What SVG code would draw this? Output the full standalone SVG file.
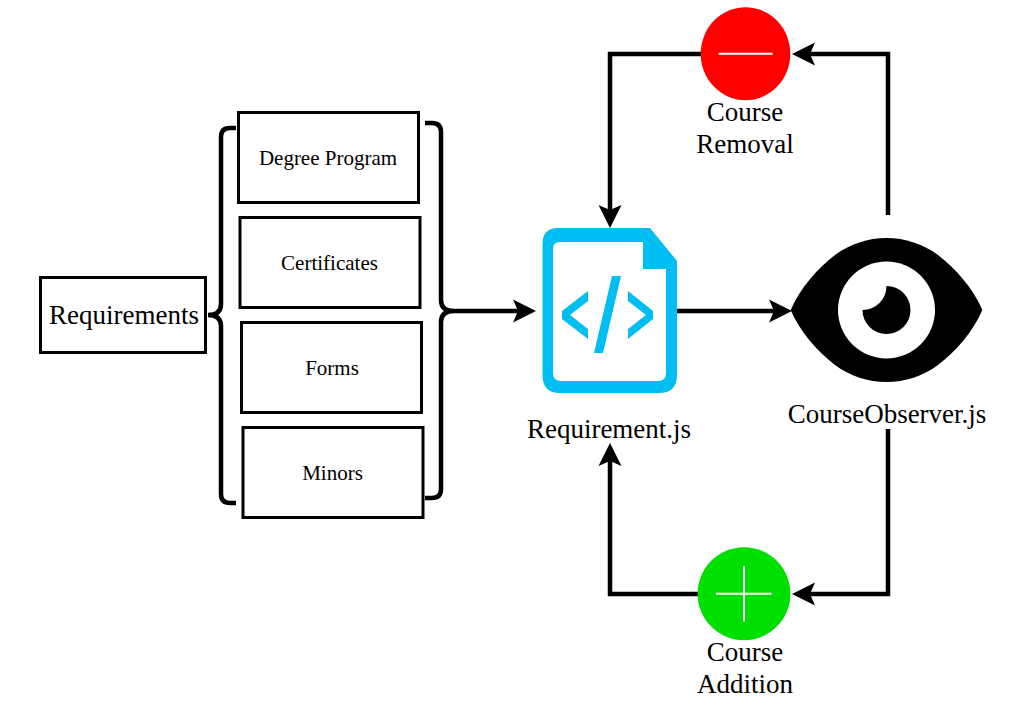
<svg xmlns="http://www.w3.org/2000/svg" width="1024" height="720" viewBox="0 0 1024 720">
<style>
text{font-family:"Liberation Serif","Times New Roman",serif;fill:#000;text-anchor:middle}
.box{fill:#fff;stroke:#000;stroke-width:3}
.s{font-size:21px}
.l{font-size:27px}
.conn{fill:none;stroke:#000;stroke-width:4.500}
.mark{fill:none;stroke:#fff;stroke-width:2}
.doc{fill:#00bef2}
</style>
<defs>
<marker id="arrow" markerUnits="userSpaceOnUse" markerWidth="24" markerHeight="24" refX="5" refY="12" orient="auto">
<path d="M0 0.500L23 12L0 23.500L5 12Z" fill="#000"/>
</marker>
</defs>
<rect width="1024" height="720" fill="#fff"/>
<g id="connectors">
<path class="conn" d="M236 128H230Q221 128 221 137V304Q221 315 208 315Q221 315 221 326V494Q221 503 230 503H236"/>
<path class="conn" d="M425 123H432Q441 123 441 132V300Q441 311 454 311Q441 311 441 322V489Q441 498 432 498H425"/>
<path class="conn" d="M454 311H518" marker-end="url(#arrow)"/>
<path class="conn" d="M677 311H774" marker-end="url(#arrow)"/>
<path class="conn" d="M888 215V54H810" marker-end="url(#arrow)"/>
<path class="conn" d="M701 54H610V210" marker-end="url(#arrow)"/>
<path class="conn" d="M888 429V594H810" marker-end="url(#arrow)"/>
<path class="conn" d="M698 594H610V461" marker-end="url(#arrow)"/>
</g>
<g id="requirements"><rect class="box" x="40.500" y="277.500" width="165" height="75"/><text class="l" x="124" y="324">Requirements</text></g>
<g id="degree-program"><rect class="box" x="238.500" y="112.500" width="180" height="90"/><text class="s" x="328" y="165">Degree Program</text></g>
<g id="certificates"><rect class="box" x="240" y="217.500" width="180" height="90"/><text class="s" x="329.500" y="270">Certificates</text></g>
<g id="forms"><rect class="box" x="241.500" y="322.500" width="180" height="90"/><text class="s" x="332" y="375">Forms</text></g>
<g id="minors"><rect class="box" x="243" y="427.500" width="180" height="90"/><text class="s" x="332.500" y="480">Minors</text></g>
<g id="requirement-js">
<path class="doc" fill-rule="evenodd" d="M558 228H650L677 261V375Q677 393 659 393H560Q542.500 393 542.500 375V244Q542.500 228 558 228ZM560 242Q553 242 553 249V373Q553 381 561 381H658Q666 381 666 373V269H643V242Z"/>
<path class="doc" d="M588 291V301L570 315L588 329V339L562 319V311ZM628 291V301L646 315L628 329V339L653 319V311ZM612 276H621L603 353H594Z"/>
<text class="l" x="609" y="438">Requirement.js</text>
</g>
<g id="course-observer">
<path d="M790.700 310C800 288 818 268 835 255C850 244 868 238 886.500 238C905 238 923 244 938 255C955 268 973 288 982.300 310C973 332 955 352 938 365C923 376 905 382 886.500 382C868 382 850 376 835 365C818 352 800 332 790.700 310Z" fill="#000"/>
<circle cx="886.500" cy="310" r="48.500" fill="#fff"/>
<path d="M886.500 286A24 24 0 1 1 862.500 310A24 24 0 0 0 886.500 286Z" fill="#000"/>
<text class="l" x="887" y="423">CourseObserver.js</text>
</g>
<g id="course-removal">
<ellipse cx="745.500" cy="53.700" rx="44.800" ry="46.500" fill="#f00"/>
<path class="mark" d="M718.500 53.700H772.500"/>
<text class="l" x="745" y="121">Course</text><text class="l" x="745" y="153">Removal</text>
</g>
<g id="course-addition">
<ellipse cx="744" cy="593.700" rx="46.400" ry="46.500" fill="#00e000"/>
<path class="mark" d="M716 593.700H771.500M744 566V621.500"/>
<text class="l" x="745" y="661">Course</text><text class="l" x="745" y="693">Addition</text>
</g>
</svg>
